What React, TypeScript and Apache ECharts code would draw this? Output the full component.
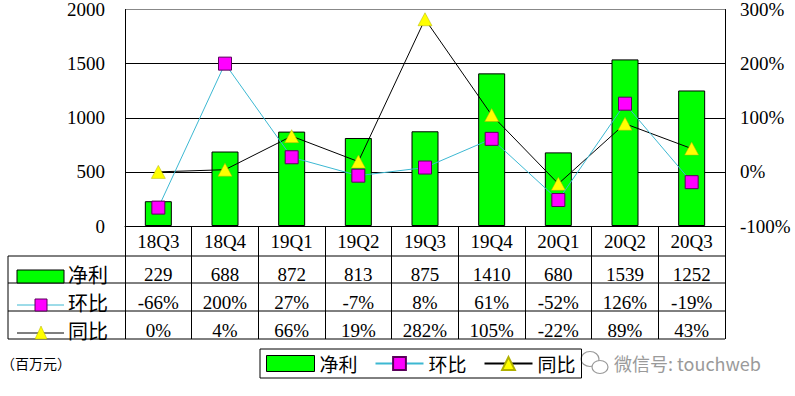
import React, { useEffect, useRef } from 'react';
import * as echarts from 'echarts';

const categories = ['18Q3', '18Q4', '19Q1', '19Q2', '19Q3', '19Q4', '20Q1', '20Q2', '20Q3'];
const netProfit = [229, 688, 872, 813, 875, 1410, 680, 1539, 1252];
const qoq = [-66, 200, 27, -7, 8, 61, -52, 126, -19];
const yoy = [0, 4, 66, 19, 282, 105, -22, 89, 43];
const seriesNames = ['净利', '环比', '同比'];
const unitLabel = '（百万元）';
const watermark = '微信号: touchweb';

const SERIF = 'Liberation Serif';
const CJK = 'Noto Sans CJK SC';
const GREEN = '#00FF00';
const CYAN = '#3CB8D2';
const MAGENTA = '#FF00FF';
const YELLOW = '#FFFF00';

// layout
const GL = 125;
const GR = 725;
const GT = 6;
const GB = 226;
const TABLE_LEFT = 8;
const ROW_LINES = [256, 283, 311, 339];
const ROW_TEXT_Y = [274, 302, 330];

const pct = (v: number) => `${v}%`;

export default function App() {
  const ref = useRef<HTMLDivElement>(null);
  useEffect(() => {
    if (!ref.current) return;
    const chart = echarts.init(ref.current, undefined, { renderer: 'svg' });

    const rowAxis = (labels: string[], margin: number) => ({
      type: 'category',
      data: labels,
      position: 'bottom',
      gridIndex: 0,
      axisLine: { show: false, onZero: false },
      axisTick: { show: false },
      splitLine: { show: false },
      axisLabel: {
        interval: 0,
        margin,
        verticalAlign: 'middle',
        fontFamily: SERIF,
        fontSize: 19,
        color: '#000',
      },
    });

    const graphics: any[] = [];
    ROW_LINES.forEach((y) => {
      graphics.push({ type: 'line', shape: { x1: TABLE_LEFT, y1: y, x2: GR, y2: y }, style: { stroke: '#000', lineWidth: 1 } });
    });
    graphics.push({ type: 'line', shape: { x1: TABLE_LEFT, y1: ROW_LINES[0], x2: TABLE_LEFT, y2: ROW_LINES[3] }, style: { stroke: '#000', lineWidth: 1 } });
    seriesNames.forEach((n, i) => {
      graphics.push({ type: 'text', x: 68, y: ROW_TEXT_Y[i], style: { text: n, fontFamily: CJK, fontSize: 20, fill: '#000', textVerticalAlign: 'middle' } });
    });
    // row icons
    graphics.push({ type: 'rect', shape: { x: 17, y: 270, width: 47, height: 13 }, style: { fill: GREEN, stroke: '#000', lineWidth: 1 } });
    graphics.push({ type: 'line', shape: { x1: 17, y1: 305, x2: 64, y2: 305 }, style: { stroke: CYAN, lineWidth: 1 } });
    graphics.push({ type: 'rect', shape: { x: 35, y: 299, width: 12, height: 12 }, style: { fill: MAGENTA, stroke: '#5a005a', lineWidth: 1 } });
    graphics.push({ type: 'line', shape: { x1: 17, y1: 333, x2: 64, y2: 333 }, style: { stroke: '#000', lineWidth: 1 } });
    graphics.push({ type: 'polygon', shape: { points: [[35, 339], [47, 339], [41, 326]] }, style: { fill: YELLOW, stroke: '#b0b000', lineWidth: 0.5 } });
    // unit
    graphics.push({ type: 'text', x: 1, y: 363, style: { text: unitLabel, fontFamily: CJK, fontSize: 14, fill: '#000', textVerticalAlign: 'middle' } });
    // watermark
    graphics.push({ type: 'ellipse', shape: { cx: 590, cy: 359, rx: 9, ry: 7.5 }, style: { fill: '#fff', stroke: '#999', lineWidth: 1.2 } });
    graphics.push({ type: 'ellipse', shape: { cx: 600, cy: 367, rx: 8, ry: 6.5 }, style: { fill: '#fff', stroke: '#999', lineWidth: 1.2 } });
    graphics.push({ type: 'text', x: 614, y: 363, style: { text: watermark, fontFamily: CJK, fontSize: 18, fill: '#9a9a9a', textVerticalAlign: 'middle' } });

    chart.setOption({
      animation: false,
      backgroundColor: '#fff',
      grid: { left: GL, right: 795 - GR, top: GT, bottom: 396 - GB, containLabel: false },
      legend: {
        left: 260,
        top: 349,
        itemWidth: 48,
        itemHeight: 16,
        itemGap: 17,
        padding: [5, 6],
        borderColor: '#000',
        borderWidth: 1,
        selectedMode: false,
        textStyle: { fontFamily: CJK, fontSize: 19, color: '#000' },
        data: [
          { name: seriesNames[0], icon: 'rect', itemStyle: { borderWidth: 1, borderColor: '#000' } },
          { name: seriesNames[1] },
          { name: seriesNames[2] },
        ],
      },
      xAxis: [
        {
          type: 'category',
          data: categories,
          position: 'bottom',
          axisLine: { show: true, onZero: false, lineStyle: { color: '#000', width: 1 } },
          axisTick: { show: true, interval: 0, length: ROW_LINES[3] - GB, lineStyle: { color: '#000', width: 1 } },
          axisLabel: { interval: 0, margin: 15, verticalAlign: 'middle', fontFamily: SERIF, fontSize: 19, color: '#000' },
          splitLine: { show: false },
        },
        rowAxis(netProfit.map(String), ROW_TEXT_Y[0] - GB),
        rowAxis(qoq.map(pct), ROW_TEXT_Y[1] - GB),
        rowAxis(yoy.map(pct), ROW_TEXT_Y[2] - GB),
      ],
      yAxis: [
        {
          type: 'value',
          min: 0,
          max: 2000,
          interval: 500,
          position: 'left',
          axisLine: { show: true, lineStyle: { color: '#000' } },
          axisTick: { show: false },
          axisLabel: { margin: 20, fontFamily: SERIF, fontSize: 19, color: '#000', formatter: (v: number) => String(v) },
          splitLine: { show: true, lineStyle: { color: ['#000', '#000', '#000', '#000', '#888'], width: 1 } },
        },
        {
          type: 'value',
          min: -100,
          max: 300,
          interval: 100,
          position: 'right',
          axisLine: { show: true, lineStyle: { color: '#000' } },
          axisTick: { show: false },
          axisLabel: { margin: 15, fontFamily: SERIF, fontSize: 19, color: '#000', formatter: '{value}%' },
          splitLine: { show: false },
        },
      ],
      series: [
        {
          name: seriesNames[0],
          type: 'bar',
          xAxisIndex: 0,
          yAxisIndex: 0,
          data: netProfit,
          barWidth: 27,
          itemStyle: { color: GREEN, borderColor: '#000', borderWidth: 1 },
        },
        {
          name: seriesNames[2],
          type: 'line',
          xAxisIndex: 0,
          yAxisIndex: 1,
          data: yoy,
          symbol: 'triangle',
          symbolSize: [14, 13],
          lineStyle: { color: '#000', width: 1 },
          itemStyle: { color: YELLOW, borderColor: '#b0b000', borderWidth: 0.5 },
          z: 3,
        },
        {
          name: seriesNames[1],
          type: 'line',
          xAxisIndex: 0,
          yAxisIndex: 1,
          data: qoq,
          symbol: 'rect',
          symbolSize: 13,
          lineStyle: { color: CYAN, width: 1 },
          itemStyle: { color: MAGENTA, borderColor: '#5a005a', borderWidth: 1 },
          z: 4,
        },
      ],
      graphic: graphics,
    });
    return () => chart.dispose();
  }, []);
  return <div ref={ref} style={{ position: 'fixed', left: 0, top: 0, width: 795, height: 396, background: '#fff' }} />;
}
